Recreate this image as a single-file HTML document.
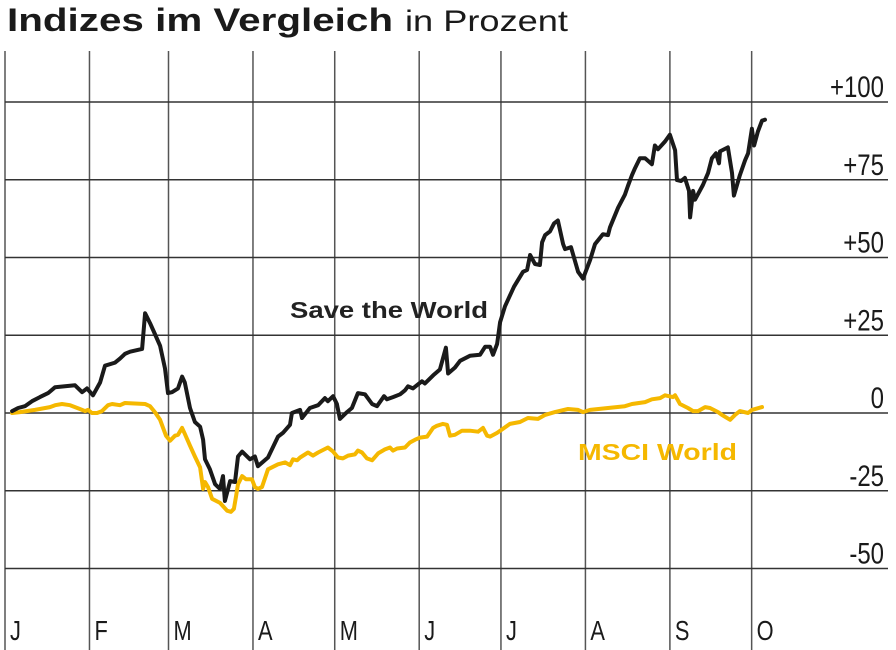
<!DOCTYPE html>
<html><head><meta charset="utf-8"><style>
html,body{margin:0;padding:0;background:#fff;width:896px;height:650px;overflow:hidden}
svg{display:block}
text{font-family:"Liberation Sans",sans-serif}
</style></head><body>
<svg id="chart" width="896" height="650" viewBox="0 0 896 650" xmlns="http://www.w3.org/2000/svg">
<text x="7" y="31" font-family="Liberation Sans, sans-serif" font-size="32" font-weight="bold" fill="#1a1a1a" textLength="386" lengthAdjust="spacingAndGlyphs">Indizes im Vergleich</text>
<text x="405" y="31" font-family="Liberation Sans, sans-serif" font-size="30" fill="#1a1a1a" textLength="163" lengthAdjust="spacingAndGlyphs">in Prozent</text>
<g id="grid"></g><g id="series"></g><g id="labels"></g>
</svg>
<script>
const monthLabels=["J","F","M","A","M","J","J","A","S","O"];
const monthStartDays=[0,31,60,91,121,152,182,213,244,274];
const yTicks=[100,75,50,25,0,-25,-50];
const yTickLabels=["+100","+75","+50","+25","0","-25","-50"];
const saveDays=[2.6,4.8,7.3,9.9,12.8,15.8,18.4,22,25.7,28.3,30.1,32.3,34.9,36.7,40.4,42.2,44,45.9,50.3,51.4,53.2,55,56.9,58.7,59.8,61.3,63.5,65,66,67.9,69.7,71.6,72.7,73.4,75.2,77.1,78.9,80,80.7,82.6,84.4,85.5,87,89.9,91.7,92.8,96.5,100.2,102,104.6,105.3,108.3,109,111.9,114.9,117.4,118.5,120.4,121.8,122.9,125.5,127.3,129.5,132.1,134.7,136.5,139.1,140.2,142.4,145,146.8,147.9,149.7,153,154.1,157.1,159.6,161.8,162.6,165.1,167,170.6,174.3,176.2,178,179.1,180.6,181.7,183.5,186.8,190.1,191.6,192.7,194.5,196.3,197.1,198.2,200,201.5,202.9,204.8,205.5,207.7,210.3,212.1,214.7,216.5,219.4,221.3,222,225,227.5,228.6,230.1,231.2,233,234.9,237.4,238.5,239.6,242.2,244,245.9,246.6,248.1,249.5,251,251.4,252.5,253.2,256.1,258,259.4,260.9,262,262.4,265.3,266.8,267.5,269.7,271.6,272.7,274.1,274.9,276.3,277.8,278.9];
const saveValues=[0.6,1.6,2.2,3.8,5.1,6.4,8.3,8.6,8.9,6.7,7.9,5.7,9.8,15.2,16.2,17.5,19,19.7,20.6,32.1,28.9,25.4,21.6,14.3,6.4,6.7,7.9,11.7,9.8,1.6,-2.9,-4.4,-8.6,-14.9,-18.1,-22.9,-24.4,-20.3,-28.3,-21.9,-22.2,-14,-12.4,-14.9,-14,-17.1,-14.3,-7.6,-6.4,-3.8,0,1,-1.6,1.6,2.5,4.8,3.8,5.4,2.9,-1.9,0.3,1.6,6.4,6,2.9,2.2,5.4,4.4,5.1,6,7.3,8.6,7.9,10.2,9.5,12.1,14,21,12.7,14.6,16.8,18.4,18.7,21.3,21.3,18.7,22.2,29.2,34.3,40.6,45.4,46,50.8,47.9,47.6,54.9,57.2,58.4,61,61.9,54.3,52.7,53.3,45.4,43.2,49.2,54.3,57.5,57.2,59.7,66,70.2,73,76.5,78.7,81.9,81.9,80,86,84.8,87.3,89.5,84.5,74.9,74.6,75.6,71.4,62.9,71.4,68.6,73.3,77.2,81.9,83.5,80.3,84.1,85.4,77.2,69.9,76.5,81.3,83.5,91.4,86,90.5,94,94.3];
const msciDays=[2.6,5.5,11,16.5,18.4,20.9,23.9,27.5,29.4,30.5,31.9,33.8,35.6,37.8,39.3,42.2,44,51.4,53.2,55,56.9,58,59.1,60.6,62.4,63.5,65,66,67.9,69.7,71.6,72.7,73.4,74.5,76,78.9,81.5,82.9,84,84.8,85.5,87,88.4,90.6,91.7,92.8,94.3,96.5,100.2,102.8,104.6,105.7,107.2,108.3,111.2,113,114.9,118.5,120.4,122.2,124,125.9,128.4,129.5,131,132.8,134.7,136.9,139.4,141.3,142.4,143.9,146.8,148.6,150.5,152.3,154.9,157.1,158.5,160.7,162.2,163.3,165.1,167.7,170.6,173.6,175.4,176.9,178,180.6,185.3,189,191.9,195.6,198.2,201.8,206.6,210.3,212.1,214.7,221.3,227.5,230.1,234.9,237.4,240.4,242.2,245.1,245.9,247.7,250.6,252.5,254.3,256.9,258.7,261.7,263.1,266.1,267.9,269.7,272.7,274.1,277.8];
const msciValues=[0,0.3,1,1.9,2.5,2.9,2.5,1.3,0.6,1,0,0,0.6,2.5,2.9,2.5,3.2,2.9,2.2,0.3,-2.2,-4.8,-7.3,-8.9,-7.3,-7,-4.8,-6.7,-10.5,-14,-17.5,-24.4,-22.2,-23.8,-27.6,-28.9,-31.4,-31.8,-30.8,-26.7,-22.9,-20.3,-21.3,-21.3,-23.8,-24.4,-23.8,-18.1,-16.5,-15.9,-16.8,-14.9,-15.2,-14.3,-12.7,-13.7,-12.7,-11.1,-12.4,-14.3,-14.6,-13.7,-13.3,-12.1,-12.7,-14.6,-15.2,-13,-11.7,-11.1,-12.1,-11.4,-11.1,-9.5,-8.6,-7.9,-7.6,-4.8,-4.1,-3.5,-3.8,-7.3,-7,-5.7,-5.7,-6,-4.8,-7.3,-7.6,-6.4,-3.5,-2.9,-1.6,-1.9,-0.6,0.3,1.3,1,0.3,1,1.6,2.2,2.9,3.5,4.4,4.8,5.7,5.1,5.7,2.9,1.6,0.6,0.6,1.9,1.6,0.3,-0.6,-2.2,-0.6,0.6,0,1,1.9];

const NS="http://www.w3.org/2000/svg";
const xScale=d=>5+d*2.725;
const yScale=v=>413-v*3.11;
function mk(tag,attrs,parent){const e=document.createElementNS(NS,tag);for(const k in attrs)e.setAttribute(k,attrs[k]);parent.appendChild(e);return e;}
const grid=document.getElementById('grid'),series=document.getElementById('series'),labels=document.getElementById('labels');
monthStartDays.forEach((d,i)=>{
  const x=xScale(d);
  const l=mk('line',{x1:x,x2:x,y1:51,y2:650,stroke:'#555','stroke-width':1.5},grid);
  
  
  const t=mk('text',{x:0,y:0,transform:'translate('+(x+5)+',640) scale(0.78,1)','font-size':28,fill:'#1a1a1a'},labels);
  t.textContent=monthLabels[i];
  
  
});
yTicks.forEach((v,i)=>{
  const y=yScale(v);
  const l=mk('line',{x1:5,x2:888,y1:y,y2:y,stroke:'#333','stroke-width':1.5},grid);
  
  
  const t=mk('text',{x:0,y:0,transform:'translate(884,'+(y-5)+') scale(0.8,1)','font-size':30,fill:'#1a1a1a','text-anchor':'end'},labels);
  t.textContent=yTickLabels[i];
  
  
});
function path(days,vals){return days.map((d,i)=>(i?'L':'M')+xScale(d).toFixed(1)+' '+yScale(vals[i]).toFixed(1)).join(' ');}
const pm=mk('path',{d:path(msciDays,msciValues),fill:'none',stroke:'#f5b800','stroke-width':4,'stroke-linejoin':'round','stroke-linecap':'round'},series);


const ps=mk('path',{d:path(saveDays,saveValues),fill:'none',stroke:'#1a1a1a','stroke-width':4,'stroke-linejoin':'round','stroke-linecap':'round'},series);


const s1=mk('text',{x:290,y:318,'font-family':'DejaVu Sans, sans-serif','font-size':23,'font-weight':'bold',fill:'#222',textLength:198,lengthAdjust:'spacingAndGlyphs'},labels);
s1.textContent='Save the World';


const s2=mk('text',{x:578,y:460,'font-family':'DejaVu Sans, sans-serif','font-size':23,'font-weight':'bold',fill:'#f5b800',textLength:159,lengthAdjust:'spacingAndGlyphs'},labels);
s2.textContent='MSCI World';


</script>
</body></html>
